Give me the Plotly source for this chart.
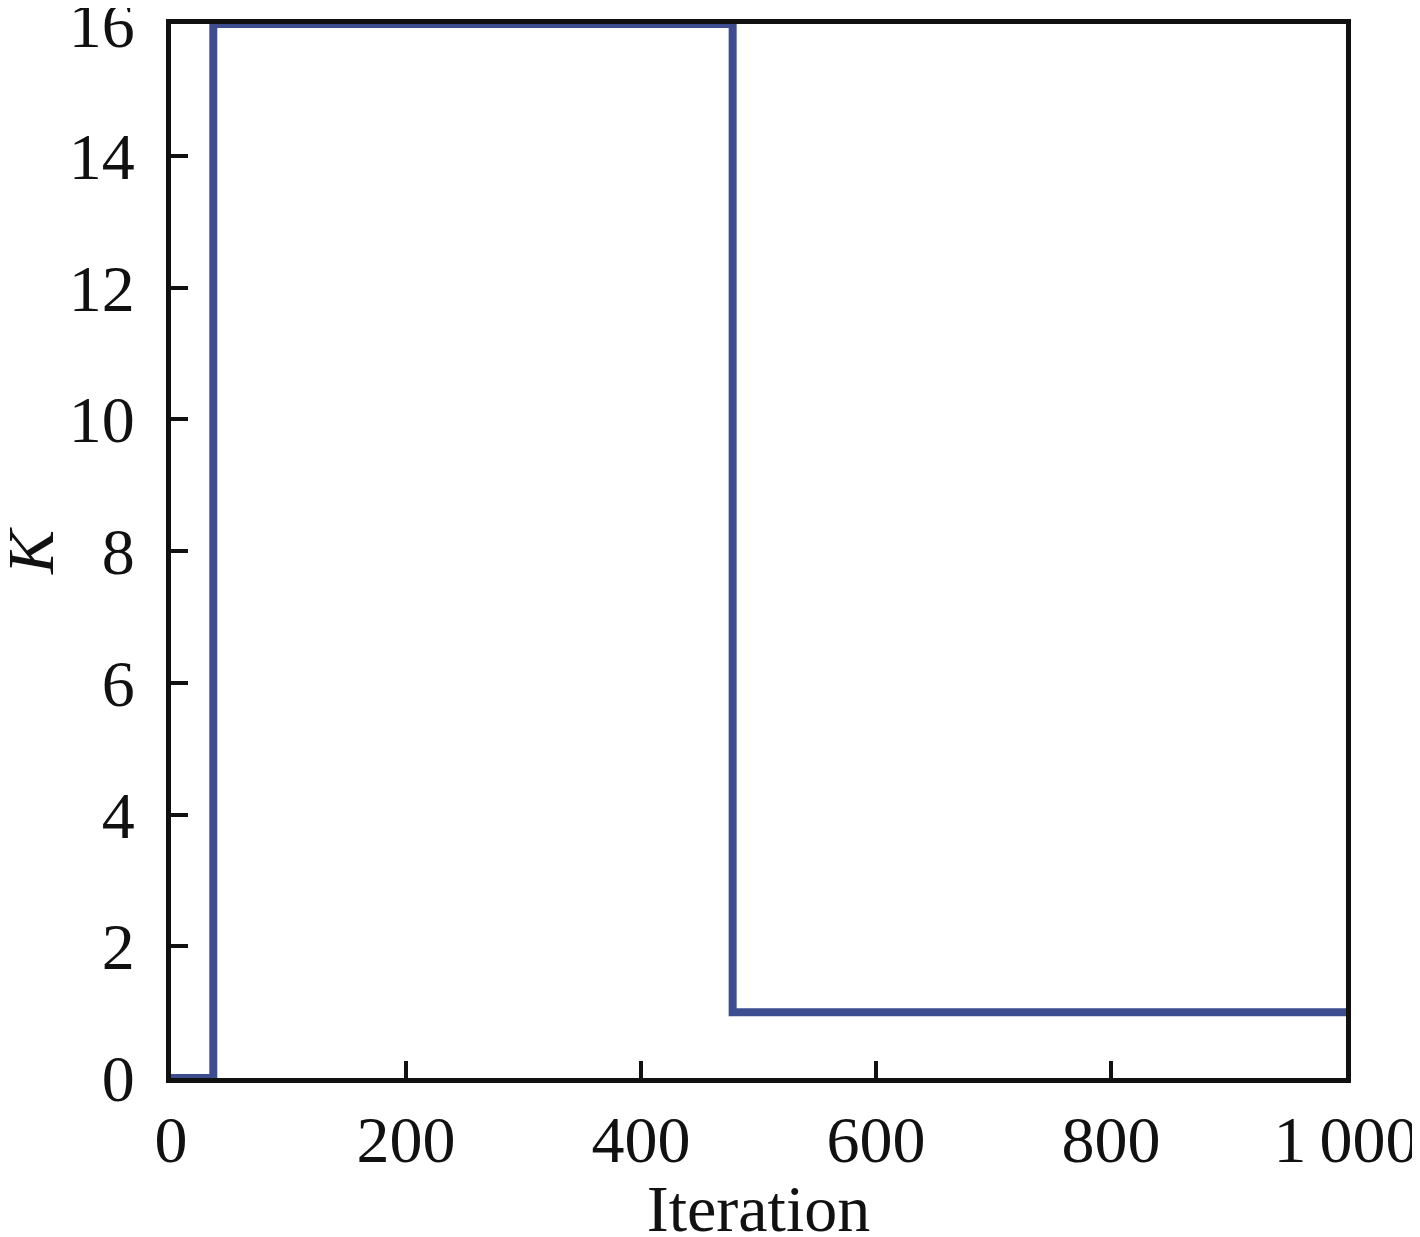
import plotly.graph_objects as go

# K value per iteration (step changes)
iterations = [0, 36, 478, 1000]
k_values = [0, 16, 1, 1]

x_ticks = [0, 200, 400, 600, 800, 1000]
x_tick_labels = ["0", "200", "400", "600", "800", "1\u2009000"]
y_ticks = [0, 2, 4, 6, 8, 10, 12, 14, 16]

font = dict(family="Liberation Serif, Times New Roman, serif", size=66, color="#111111")

fig = go.Figure()
fig.add_trace(go.Scatter(
    x=iterations, y=k_values, mode="lines",
    line=dict(color="#3D4D8F", width=8, shape="hv"),
    cliponaxis=False, showlegend=False,
))

axis_common = dict(
    showgrid=False, zeroline=False, showline=True, mirror=True,
    linecolor="#111111", linewidth=5,
    ticks="inside", ticklen=17, tickwidth=4, tickcolor="#111111",
    tickfont=font, automargin=False, ticklabeloverflow="allow",
)

fig.update_xaxes(
    range=[0, 1000], tickvals=x_ticks, ticktext=x_tick_labels,
    title=dict(text="Iteration", font=font, standoff=10),
    ticklabelstandoff=0,
    **axis_common,
)
fig.update_yaxes(
    range=[0, 16], tickvals=y_ticks,
    ticklabelstandoff=18,
    **axis_common,
)

# y-axis title as an annotation so it can sit near the left edge
fig.add_annotation(
    text="<i>K</i>", xref="paper", yref="paper", x=0, y=0.5,
    xanchor="center", yanchor="middle", xshift=-141, textangle=-90,
    showarrow=False, font=font,
)

fig.update_layout(
    width=1420, height=1237,
    margin=dict(l=163, r=82, t=16, b=167),
    plot_bgcolor="white", paper_bgcolor="white",
    font=font,
)

fig.write_html("out.html")
